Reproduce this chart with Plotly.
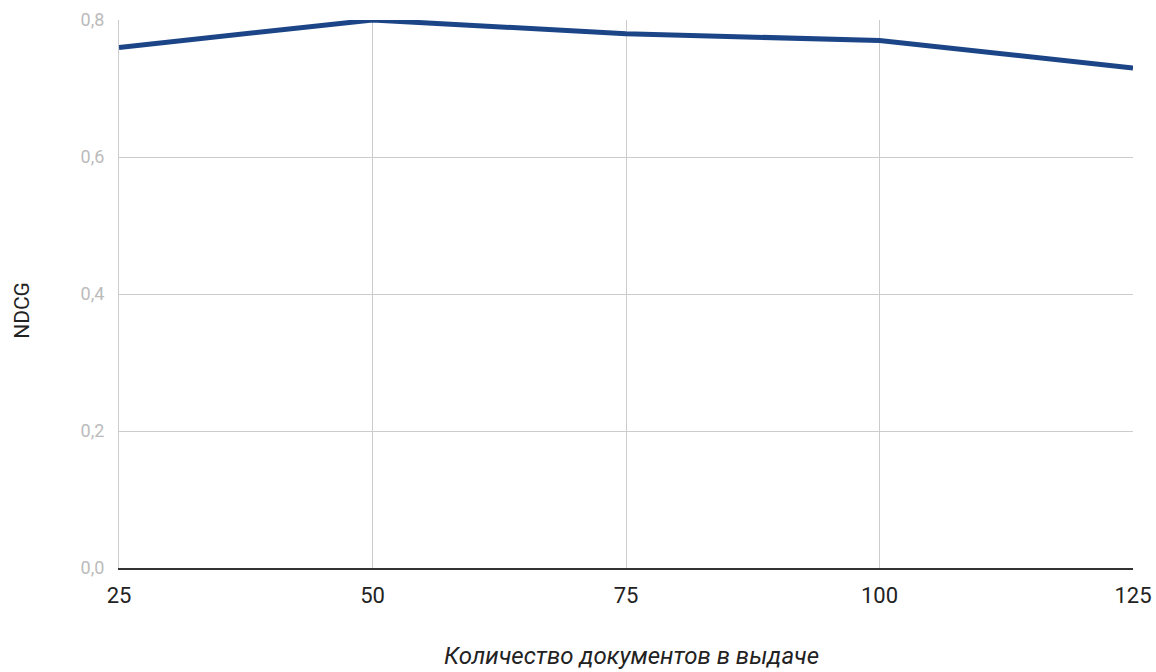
import plotly.graph_objects as go

docs = [25, 50, 75, 100, 125]
ndcg = [0.76, 0.80, 0.78, 0.77, 0.73]
x_ticks = [25, 50, 75, 100, 125]
y_ticks = [0.0, 0.2, 0.4, 0.6, 0.8]
x_title = "Количество документов в выдаче"
y_title = "NDCG"

fig = go.Figure()
fig.add_trace(go.Scatter(
    x=docs, y=ndcg, mode="lines",
    line=dict(color="#1c4587", width=5),
    hoverinfo="x+y",
))

fig.update_layout(
    width=1156, height=672,
    margin=dict(l=119, r=23, t=20, b=104, autoexpand=False),
    paper_bgcolor="white", plot_bgcolor="white",
    separators=",.",
    showlegend=False,
    font=dict(family="Roboto", color="#222222"),
)
fig.update_xaxes(
    range=[25, 125], tickvals=x_ticks, showgrid=True, gridcolor="#cccccc", gridwidth=1,
    zeroline=False, showline=True, linecolor="#333333", linewidth=2,
    tickfont=dict(size=22, color="#222222"), ticks="", ticklabelstandoff=7,
    automargin=False,
)
fig.update_yaxes(
    range=[0, 0.8], tickvals=y_ticks, tickformat=".1f", showgrid=True, gridcolor="#cccccc", gridwidth=1,
    zeroline=False, showline=True, linecolor="#cccccc", linewidth=1, mirror=False,
    tickfont=dict(size=18, color="#bbbbbb"), ticks="", ticklabelstandoff=10,
    automargin=False,
)
fig.add_annotation(
    text=x_title, xref="paper", yref="paper", x=0.505, y=-0.1606,
    xanchor="center", yanchor="middle", showarrow=False,
    font=dict(size=24, color="#222222", style="italic", family="Roboto"),
)
fig.add_annotation(
    text=y_title, xref="paper", yref="paper", x=-0.0957, y=0.471,
    xanchor="center", yanchor="middle", showarrow=False, textangle=-90,
    font=dict(size=21, color="#222222", family="Roboto"),
)
fig.write_html(
    "out.html",
    config={"displayModeBar": False},
    post_script="document.body.style.margin='0';document.body.style.overflow='hidden';",
)
